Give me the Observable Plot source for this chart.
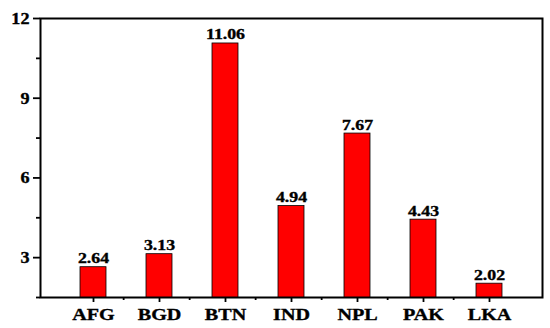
<!DOCTYPE html>
<html>
<head>
<meta charset="utf-8">
<script src="https://cdn.jsdelivr.net/npm/d3@7"></script>
<script src="https://cdn.jsdelivr.net/npm/@observablehq/plot@0.6"></script>
<style>
  body { margin: 0; background: #fff; }
  svg { display: block; }
  svg text { stroke: #000; stroke-width: 0.35px; }
</style>
</head>
<body>
<div id="chart"></div>
<script>
const countries = ["AFG", "BGD", "BTN", "IND", "NPL", "PAK", "LKA"];
const values = [2.64, 3.13, 11.06, 4.94, 7.67, 4.43, 2.02];
const yMajorTicks = [3, 6, 9, 12];
const yMinorTicks = [1.5, 4.5, 7.5, 10.5];

const data = countries.map((c, i) => ({country: c, value: values[i]}));

const W = 550, H = 328, mL = 40, mR = 8, mT = 18, mB = 31;
const step = (W - mL - mR) / countries.length;

const chart = Plot.plot({
  width: W,
  height: H,
  marginLeft: mL,
  marginRight: mR,
  marginTop: mT,
  marginBottom: mB,
  style: {fontFamily: "'Liberation Serif', 'Times New Roman', serif", fontWeight: "bold", color: "#000", background: "#fff"},
  x: {domain: countries, padding: 0.6, label: null},
  y: {domain: [1.5, 12], label: null},
  marks: [
    Plot.barY(data, {x: "country", y: "value", fill: "#ff0000", stroke: "#000", strokeWidth: 0.8, clip: true}),
    Plot.text(data, {x: "country", y: "value", text: d => d.value.toFixed(2), lineAnchor: "bottom", dy: -4, fontSize: 14, fontWeight: "bold", fill: "#000"}),
    Plot.axisY({ticks: yMajorTicks, tickSize: 7, tickPadding: 4, tickFormat: d => d, fontSize: 16.5, fontWeight: "bold", strokeWidth: 1.8, label: null}),
    Plot.axisY({ticks: yMinorTicks, tickSize: 4, text: null, strokeWidth: 1.8, label: null}),
    Plot.axisX({tickSize: 5, tickPadding: 6, fontSize: 16.5, fontWeight: "bold", strokeWidth: 1.8, label: null}),
    Plot.axisX(countries.slice(1), {tickSize: 3, text: null, dx: -step / 2, strokeWidth: 1.8, label: null}),
    Plot.frame({stroke: "#000", strokeWidth: 2})
  ]
});

// horizontally widen glyphs to match the reference's stretched serif type
function widen(selector, s) {
  chart.querySelectorAll(selector).forEach(t => {
    const tr = t.getAttribute("transform") || "";
    t.setAttribute("transform", `${tr} scale(${s},1)`.trim());
  });
}
widen('g[aria-label="x-axis tick label"] text', 1.22);
widen('g[aria-label="y-axis tick label"] text', 1.1);
widen('g[aria-label="text"] text', 1.27);

document.getElementById("chart").appendChild(chart);
</script>
</body>
</html>
